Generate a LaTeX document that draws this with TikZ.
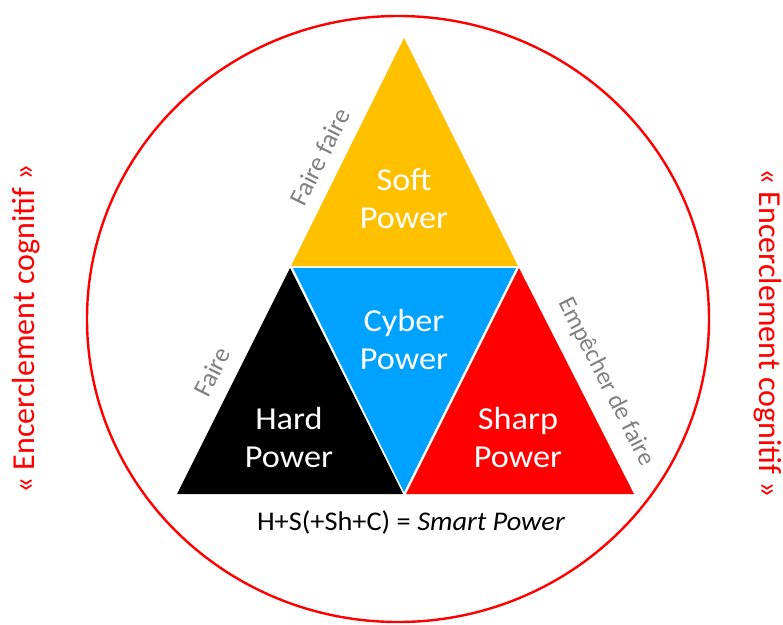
\documentclass[tikz,border=0pt]{standalone}
\usepackage{fontspec}
\setmainfont{Carlito}
\usetikzlibrary{positioning}

\definecolor{softgold}{RGB}{255,192,0}
\definecolor{cyberblue}{RGB}{0,162,255}
\definecolor{sharpred}{RGB}{255,0,0}
\definecolor{labelgray}{RGB}{128,128,128}

\begin{document}
\begin{tikzpicture}[%
    x=1pt,
    y=-1pt,
    power/.style={%
      text=white,
      align=center,
      transform shape,
      xscale=1.07,
      font=\fontsize{32}{38}\selectfont
    },
    sidenote/.style={%
      text=labelgray,
      font=\fontsize{26}{30}\selectfont
    },
    encircle/.style={%
      text=sharpred,
      font=\fontsize{32}{36}\selectfont
    }
  ]
    \useasboundingbox (0,0) rectangle (783,624);

    % the circle
    \draw[sharpred, line width=2.4pt] (398,319) ellipse [x radius=311pt, y radius=303pt];

    % the four triangles
    \fill[softgold] (404,38) -- (291,266) -- (518,266) -- cycle;
    \fill[black] (290,268) -- (177,494) -- (403,494) -- cycle;
    \fill[sharpred] (519,268) -- (406,494) -- (634,494) -- cycle;
    \fill[cyberblue] (293,268) -- (516,268) -- (404,492) -- cycle;

    \node[power] (soft) at (404,199) {Soft\\Power};
    \node[power] (cyber) at (404,339) {Cyber\\Power};
    \node[power] (hard) at (289,437) {Hard\\Power};
    \node[power] (sharp) at (518,437) {Sharp\\Power};

    \node[sidenote, rotate=63.6] (fairefaire) at (320,157) {Faire faire};
    \node[sidenote, rotate=63.4] (faire) at (212,372) {Faire};
    \node[sidenote, rotate=-63, font=\fontsize{25}{30}\selectfont] (empecher) at (606,382) {Empêcher de faire};

    \node[transform shape, xscale=1.05, font=\fontsize{27}{30}\selectfont] (smart) at (411,522) {H+S(+Sh+C) = \textit{Smart Power}};

    \node[encircle, rotate=90] (left) at (26,329) {« Encerclement cognitif »};
    \node[encircle, rotate=-90] (right) at (768,333) {« Encerclement cognitif »};
\end{tikzpicture}
\end{document}
